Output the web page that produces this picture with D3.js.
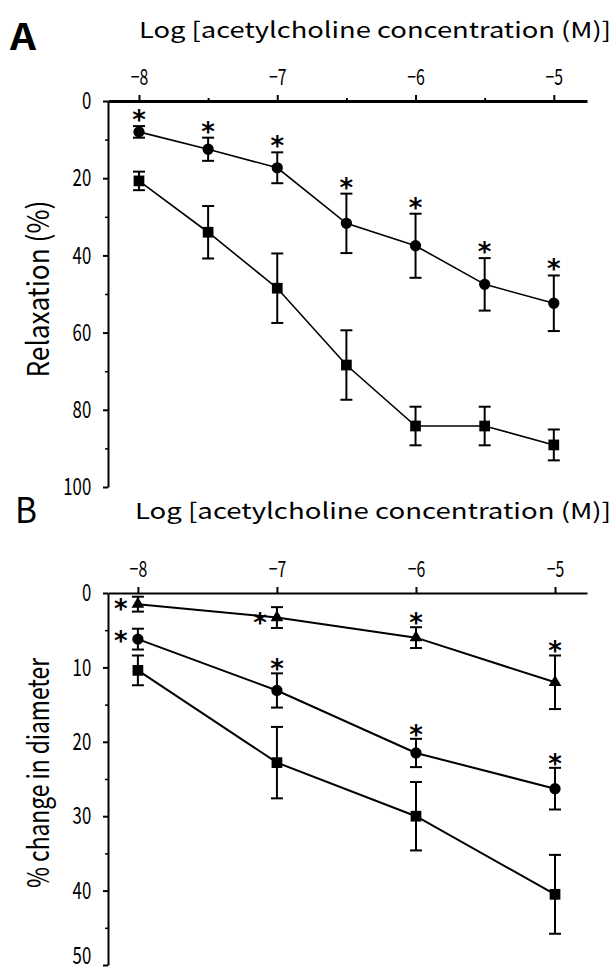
<!DOCTYPE html>
<html>
<head>
<meta charset="utf-8">
<script src="https://cdn.jsdelivr.net/npm/d3@7"></script>
<style>
  body { margin: 0; background: #fff; }
  text { fill: #000; }
</style>
</head>
<body>
<svg id="chart" width="613" height="972"></svg>
<script>
// ---- data ----
const xLabel = "Log [acetylcholine concentration (M)]";

// panel A : relaxation (%)
const concA = [-8, -7.5, -7, -6.5, -6, -5.5, -5];
const relaxCircle = [8, 12.5, 17.3, 31.7, 37.5, 47.5, 52.4];
const relaxCircleSE = [1.5, 3, 4, 7.7, 8.3, 6.8, 7.2];
const relaxSquare = [20.7, 34, 48.5, 68.4, 84.2, 84.2, 89.1];
const relaxSquareSE = [2.4, 6.8, 9, 9, 5, 5, 4];
const relaxCircleStar = ["above", "above", "above", "above", "above", "above", "above"];
const ticksA = [0, 20, 40, 60, 80, 100];
const minorTicksA = [10, 30, 50, 70, 90];

// panel B : % change in diameter
const concB = [-8, -7, -6, -5];
const diamTriangle = [1.5, 3.3, 6, 12];
const diamTriangleSE = [1, 1.4, 1.4, 3.6];
const diamCircle = [6.2, 13.1, 21.5, 26.3];
const diamCircleSE = [1.4, 2.3, 1.9, 2.8];
const diamSquare = [10.4, 22.8, 30, 40.5];
const diamSquareSE = [2, 4.8, 4.6, 5.3];
const diamTriangleStar = ["left", "left", "above", "above"];
const diamCircleStar = ["left", "above", "above", "above"];
const ticksB = [0, 10, 20, 30, 40, 50];
const minorTicksB = [5, 15, 25, 35, 45];

const xTicks = [-8, -7, -6, -5];

const svg = d3.select("#chart");
const mainFont = "'Noto Sans CJK JP', 'DejaVu Sans', sans-serif";

function drawPanel(p) {
    const g = svg.append("g").style("font-family", mainFont);

    const xScale = d3.scaleLinear().domain(p.xDomain).range([108, 587]);
    const yScale = d3.scaleLinear().domain(p.yDomain).range(p.yRange);

    // top axis
    const xAxis = g.append("g")
        .attr("transform", `translate(0,${p.yRange[0]})`)
        .call(d3.axisTop(xScale).tickValues(xTicks).tickSize(6).tickSizeOuter(0).tickPadding(10)
            .tickFormat(d => "\u2212" + Math.abs(d)));
    xAxis.select(".domain").attr("stroke-width", p.xAxisWidth);
    xAxis.selectAll(".tick line").attr("stroke-width", 2);
    xAxis.selectAll(".tick text")
        .style("font-family", mainFont)
        .attr("font-size", 22)
        .attr("transform", "scale(0.72,1)");
    if (p.xMinor.length) {
        g.append("g")
            .attr("transform", `translate(0,${p.yRange[0]})`)
            .call(d3.axisTop(xScale).tickValues(p.xMinor).tickSize(3).tickFormat(""))
            .call(a => a.select(".domain").remove())
            .selectAll(".tick line").attr("stroke-width", 2);
    }

    // left axis
    const yAxis = g.append("g")
        .attr("transform", "translate(108,0)")
        .call(d3.axisLeft(yScale).tickValues(p.yTicks).tickSize(5).tickSizeOuter(0).tickPadding(19));
    yAxis.select(".domain").attr("stroke-width", 2);
    yAxis.selectAll(".tick line").attr("stroke-width", 2);
    yAxis.selectAll(".tick text")
        .style("font-family", mainFont)
        .attr("font-size", 24)
        .attr("transform", "scale(0.7,1)")
        .attr("dy", d => d === p.yDomain[1] && p.clipLast ? "-0.05em" : "0.32em");
    g.append("g")
        .attr("transform", "translate(108,0)")
        .call(d3.axisLeft(yScale).tickValues(p.yMinor).tickSize(3).tickFormat(""))
        .call(a => a.select(".domain").remove())
        .selectAll(".tick line").attr("stroke-width", 1.5);

    // panel letter and titles
    g.append("text")
        .attr("x", p.letterX).attr("y", p.letterY)
        .attr("font-size", 36)
        .attr("font-weight", p.letterWeight)
        .attr("textLength", p.letterW).attr("lengthAdjust", "spacingAndGlyphs")
        .text(p.letter);
    g.append("text")
        .attr("x", p.titleX).attr("y", p.titleY)
        .attr("font-size", 22)
        .attr("textLength", 611 - p.titleX).attr("lengthAdjust", "spacingAndGlyphs")
        .text(xLabel);
    g.append("text")
        .attr("transform", `translate(${p.yLabelX},${p.yLabelY}) rotate(-90)`)
        .attr("text-anchor", "middle")
        .attr("font-size", 30)
        .attr("textLength", p.yLabelLen).attr("lengthAdjust", "spacingAndGlyphs")
        .text(p.yLabel);

    const line = d3.line()
        .x(d => xScale(d.c))
        .y(d => yScale(d.v));

    p.series.forEach(s => {
        const pts = p.conc.map((c, i) => ({ c: c, v: s.values[i], e: s.se[i], star: s.stars ? s.stars[i] : null }));

        g.append("path")
            .datum(pts)
            .attr("d", line)
            .attr("fill", "none")
            .attr("stroke", "#000")
            .attr("stroke-width", p.lineWidth);

        // error bars
        const eb = g.selectAll(null).data(pts).enter().append("g");
        eb.append("line")
            .attr("x1", d => xScale(d.c)).attr("x2", d => xScale(d.c))
            .attr("y1", d => yScale(d.v - d.e)).attr("y2", d => yScale(d.v + d.e))
            .attr("stroke", "#000").attr("stroke-width", 2);
        [-1, 1].forEach(sign => {
            eb.append("line")
                .attr("x1", d => xScale(d.c) - 6).attr("x2", d => xScale(d.c) + 6)
                .attr("y1", d => yScale(d.v + sign * d.e)).attr("y2", d => yScale(d.v + sign * d.e))
                .attr("stroke", "#000").attr("stroke-width", 2);
        });

        // markers
        const sym = d3.symbol().type(s.shape).size(s.size);
        g.selectAll(null).data(pts).enter().append("path")
            .attr("d", sym)
            .attr("transform", d => `translate(${xScale(d.c)},${yScale(d.v)})`)
            .attr("fill", "#000");

        // significance stars
        g.selectAll(null).data(pts.filter(d => d.star)).enter().append("text")
            .style("font-family", "'DejaVu Sans', sans-serif")
            .attr("font-size", 26)
            .attr("font-weight", "bold")
            .attr("text-anchor", "middle")
            .attr("x", d => d.star === "left" ? xScale(d.c) - 17 : xScale(d.c))
            .attr("y", d => d.star === "left" ? yScale(d.v) + 11 + s.leftDy : yScale(d.v - d.e) - p.starGap + 11)
            .text("*");
    });
}

drawPanel({
    letter: "A", letterX: 10, letterY: 50, letterW: 26, letterWeight: "bold",
    titleX: 139, titleY: 38,
    yLabel: "Relaxation (%)", yLabelX: 49, yLabelY: 289, yLabelLen: 177,
    xDomain: [-8.224, -4.76], yDomain: [0, 100], yRange: [101, 487],
    xAxisWidth: 3, xMinor: [-7.5, -6.5, -5.5],
    yTicks: ticksA, yMinor: minorTicksA, clipLast: false,
    conc: concA, lineWidth: 1.6, starGap: 8,
    series: [
        { values: relaxSquare, se: relaxSquareSE, shape: d3.symbolSquare, size: 115 },
        { values: relaxCircle, se: relaxCircleSE, shape: d3.symbolCircle, size: 100, stars: relaxCircleStar, leftDy: 0 }
    ]
});

drawPanel({
    letter: "B", letterX: 15, letterY: 523, letterW: 22, letterWeight: "normal",
    titleX: 135, titleY: 519,
    yLabel: "% change in diameter", yLabelX: 49, yLabelY: 773, yLabelLen: 230,
    xDomain: [-8.215, -4.77], yDomain: [0, 50], yRange: [593, 965],
    xAxisWidth: 2, xMinor: [],
    yTicks: ticksB, yMinor: minorTicksB, clipLast: true,
    conc: concB, lineWidth: 2, starGap: 6,
    series: [
        { values: diamSquare, se: diamSquareSE, shape: d3.symbolSquare, size: 115 },
        { values: diamCircle, se: diamCircleSE, shape: d3.symbolCircle, size: 100, stars: diamCircleStar, leftDy: 0 },
        { values: diamTriangle, se: diamTriangleSE, shape: d3.symbolTriangle, size: 70, stars: diamTriangleStar, leftDy: 3 }
    ]
});
</script>
</body>
</html>
